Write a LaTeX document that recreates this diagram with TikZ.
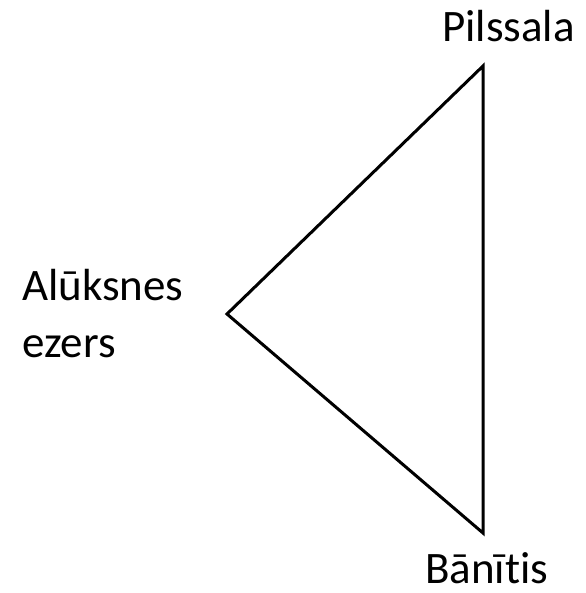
\documentclass[tikz,border=0pt]{standalone}
\usepackage{fontspec}
\setmainfont{Carlito}[Ligatures=NoCommon]
\usepackage{tikz}

\begin{document}
\begin{tikzpicture}[x=1pt,y=-1pt,
        vieta/.style={inner sep=0pt, font=\fontsize{45}{57}\selectfont, align=left},
        mala/.style={line width=3pt, black}]
        \useasboundingbox (0,0) rectangle (585,593);

        % Virsotnes
        \coordinate (Pilssala) at (483,66);
        \coordinate (Ezers) at (227,314);
        \coordinate (Banitis) at (483,533);

        % Trijstura malas
        \draw[mala, line join=miter]
            (Pilssala) -- (Ezers) -- (Banitis) -- cycle;

        % Nosaukumi
        \node[vieta, anchor=base west] (lPilssala) at (442,42) {Pilssala};
        \node[vieta, anchor=base west] (lEzers) at (22,357) {Alūksnes\\ezers}; % bāzes līnija = pēdējā rinda
        \node[vieta, anchor=base west] (lBanitis) at (425,583) {Bānītis};

    \end{tikzpicture}
\end{document}
